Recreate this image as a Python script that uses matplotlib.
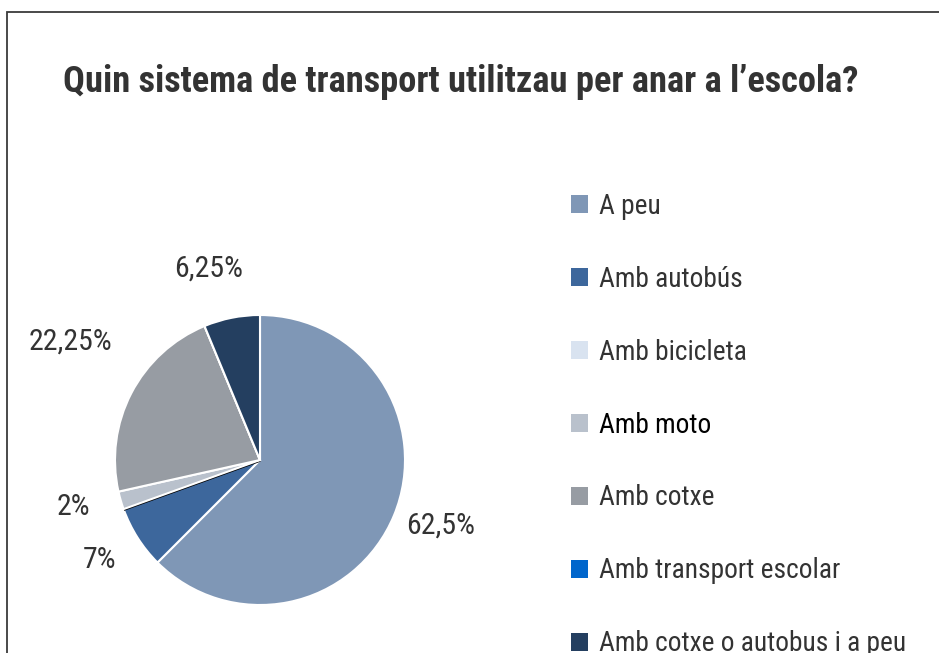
import matplotlib
matplotlib.use("Agg")
import matplotlib.pyplot as plt
from matplotlib import font_manager as fm
from matplotlib.patches import Rectangle
import numpy as np

# pick an Arial Narrow look-alike that is actually installed
installed = {f.name for f in fm.fontManager.ttflist}
narrow = next((n for n in ["Liberation Sans Narrow", "Arial Narrow", "Roboto Condensed",
                           "Archivo Narrow", "Barlow Semi Condensed"] if n in installed),
              "DejaVu Sans")
plt.rcParams['font.family'] = [narrow, 'DejaVu Sans']
plt.rcParams['font.stretch'] = 'condensed'

categories = ["A peu", "Amb autobús", "Amb bicicleta", "Amb moto", "Amb cotxe",
              "Amb transport escolar", "Amb cotxe o autobus i a peu"]
values = [62.5, 7, 0, 2, 22.25, 0, 6.25]
value_labels = ["62,5%", "7%", "", "2%", "22,25%", "", "6,25%"]
colors = ["#7F97B6", "#3D679C", "#D9E3F0", "#B9C1CC", "#979CA3", "#0066CC", "#243F60"]

W, H = 939, 653
fig = plt.figure(figsize=(W / 100, H / 100), dpi=100)

# outer frame (runs off the right and bottom edge)
fig.add_artist(Rectangle((7 / W, -0.1), 1.2, 1 - 12 / H + 0.1, transform=fig.transFigure,
                         fill=False, edgecolor="#3a3a3a", lw=1.3))

fig.text(63 / W, 1 - 82 / H, "Quin sistema de transport utilitzau per anar a l\u2019escola?",
         fontsize=26.2, fontweight="bold", color="#333333", va="center", ha="left")

cx, cy, r = 260, 460, 145
ax = fig.add_axes([(cx - r) / W, (H - cy - r) / H, 2 * r / W, 2 * r / H])
wedges, _ = ax.pie(values, colors=colors, startangle=90, counterclock=False,
                   wedgeprops=dict(edgecolor="white", linewidth=1.5))
wedges[2].set_edgecolor("black")
wedges[2].set_linewidth(2.6)
ax.set_xlim(-1, 1)
ax.set_ylim(-1, 1)
ax.set_aspect("equal")

# label distances (in radii) and small angular nudges per slice
dists = [1.33, 1.31, 0, 1.33, 1.53, 0, 1.35]
shift = [2, 0, 0, -1.5, -4, 0, 4]
for w, lab, d, s in zip(wedges, value_labels, dists, shift):
    if not lab:
        continue
    ang = np.deg2rad((w.theta1 + w.theta2) / 2 + s)
    ax.text(d * np.cos(ang), d * np.sin(ang) + 0.015, lab, fontsize=21.5, color="#333333",
            ha="center", va="center")

leg = fig.legend(wedges, categories, loc="upper left",
                 bbox_to_anchor=(546 / W, 1 - 168 / H), frameon=False,
                 fontsize=19.7, handlelength=0.65, handleheight=0.65,
                 handletextpad=0.4, labelspacing=1.68)
for t in leg.get_texts():
    t.set_color("#333333")
leg.get_texts()[3].set_color("black")
for h in leg.legend_handles:
    h.set_edgecolor("none")

fig.savefig("out.png", dpi=100)
